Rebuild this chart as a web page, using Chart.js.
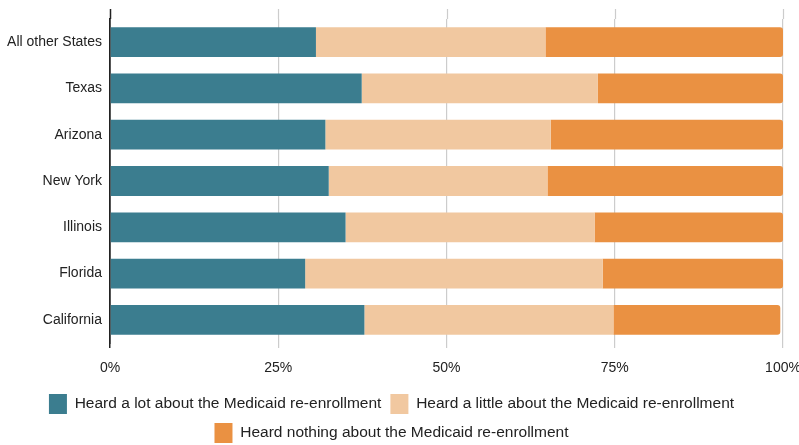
<!DOCTYPE html>
<html>
<head>
<meta charset="utf-8">
<script src="https://cdn.jsdelivr.net/npm/chart.js@4"></script>
<style>
  html, body { margin: 0; padding: 0; background: #fff; }
  #wrap { width: 799px; height: 445px; }
</style>
</head>
<body>
<div id="wrap"><canvas id="myChart"></canvas></div>
<script>
var states = ["All other States", "Texas", "Arizona", "New York", "Illinois", "Florida", "California"];
var heardALot = [30.6, 37.4, 32.0, 32.5, 35.0, 29.0, 37.8];
var heardALittle = [34.1, 35.1, 33.5, 32.5, 37.0, 44.2, 37.0];
var heardNothing = [35.3, 27.5, 34.5, 35.0, 28.0, 26.8, 24.8];
var xTicks = [0, 25, 50, 75, 100];

var fontFamily = "'Liberation Sans', Arial, sans-serif";

// grid lines in the reference run a bit above the top bar
var gridTopExtend = {
    id: 'gridTopExtend',
    afterDraw: function(chart) {
        var c = chart.ctx, x = chart.scales.x, top = chart.chartArea.top;
        c.save();
        xTicks.forEach(function(v, i) {
            var px = Math.round(x.getPixelForValue(v)) + 0.5;
            c.beginPath();
            c.strokeStyle = i === 0 ? '#222' : '#cccccc';
            c.lineWidth = i === 0 ? 1.5 : 1.2;
            c.moveTo(px, top - 10);
            c.lineTo(px, top);
            c.stroke();
        });
        c.restore();
    }
};

var config = {
    type: 'bar',
    data: {
        labels: states,
        datasets: [{
            label: "Heard a lot about the Medicaid re-enrollment",
            data: heardALot,
            backgroundColor: "#3b7d8f"
        }, {
            label: "Heard a little about the Medicaid re-enrollment",
            data: heardALittle,
            backgroundColor: "#f1c8a0"
        }, {
            label: "Heard nothing about the Medicaid re-enrollment",
            data: heardNothing,
            backgroundColor: "#ea9142",
            borderRadius: { topRight: 3, bottomRight: 3 },
            borderSkipped: false
        }]
    },
    plugins: [gridTopExtend],
    options: {
        indexAxis: 'y',
        responsive: true,
        maintainAspectRatio: false,
        animation: false,
        barPercentage: 0.92,
        categoryPercentage: 0.7,
        layout: { padding: { top: 19, right: 16, left: 0, bottom: -8 } },
        plugins: {
            tooltip: { enabled: false },
            legend: {
                position: 'bottom',
                labels: {
                    color: '#222',
                    font: { family: fontFamily, size: 15.5 },
                    boxWidth: 18,
                    boxHeight: 20,
                    padding: 9
                }
            }
        },
        scales: {
            x: {
                stacked: true,
                min: 0,
                max: 100,
                afterBuildTicks: function(scale) {
                    scale.ticks = xTicks.map(function(v) { return { value: v }; });
                },
                afterFit: function(scale) {
                    scale.height = 42;
                    scale.paddingRight = 0;
                },
                border: { display: false },
                grid: {
                    color: function(ctx) { return ctx.index === 0 ? '#222' : '#cccccc'; },
                    lineWidth: function(ctx) { return ctx.index === 0 ? 1.5 : 1.2; },
                    tickLength: 5
                },
                ticks: {
                    color: '#222',
                    padding: 12,
                    font: { family: fontFamily, size: 14 },
                    callback: function(v) { return v + '%'; }
                }
            },
            y: {
                stacked: true,
                afterFit: function(scale) { scale.width = 110; },
                border: { display: true, color: '#222', width: 1.5 },
                grid: { display: false, drawTicks: false },
                ticks: {
                    color: '#222',
                    padding: 8,
                    font: { family: fontFamily, size: 14 }
                }
            }
        }
    }
};

var ctx = document.getElementById("myChart").getContext("2d");
window.myBar = new Chart(ctx, config);
</script>
</body>
</html>
